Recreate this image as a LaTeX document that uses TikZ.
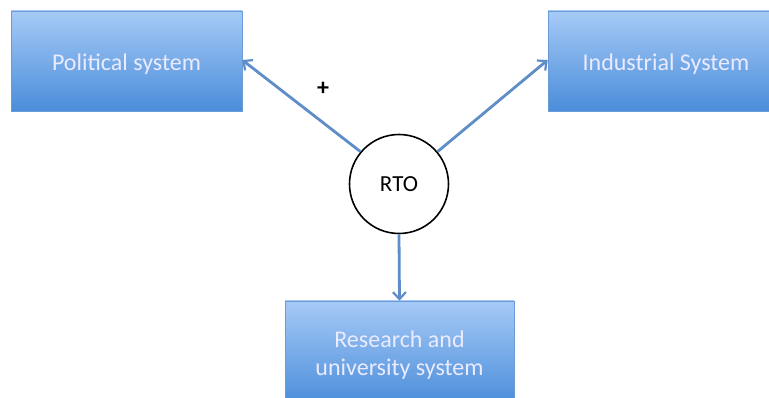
\documentclass[tikz,border=0pt]{standalone}
\usepackage{fontspec}
\setmainfont{Carlito}
\usetikzlibrary{arrows.meta,shadows}
\definecolor{boxtop}{HTML}{A6CAF6}
\definecolor{boxbot}{HTML}{4A8DDA}
\definecolor{boxline}{HTML}{6A9BD6}
\definecolor{linkcol}{HTML}{5E8DC8}
\begin{document}
\begin{tikzpicture}[x=1pt,y=-1pt,
  sysbox/.style={rectangle, draw=boxline, line width=0.6pt,
    top color=boxtop, bottom color=boxbot, inner sep=0pt,
    drop shadow={shadow xshift=1pt, shadow yshift=-1.5pt, opacity=0.25}},
  systext/.style={text=white!92!blue, font=\fontsize{24}{28}\selectfont,
    align=center, inner sep=0pt},
  hub/.style={circle, draw=black, line width=1.6pt, fill=white,
    minimum size=99pt, inner sep=0pt, font=\fontsize{23}{26}\selectfont},
  link/.style={draw=linkcol, line width=2.8pt,
    -{Straight Barb[length=7pt,width=13pt,line width=2.2pt]}}]
  \useasboundingbox (0,0) rectangle (769,398);
  \fill[white] (0,0) rectangle (769,398);

  % system boxes (the right and bottom ones run past the page edge)
  \node[sysbox, minimum width=231pt, minimum height=100pt] (pol) at (126.5,61) {};
  \node[sysbox, minimum width=236pt, minimum height=100pt] (ind) at (666,61) {};
  \node[sysbox, minimum width=229pt, minimum height=104pt] (res) at (399.5,353) {};
  \node[systext] (poltext) at (126.5,64) {Political system};
  \node[systext] (indtext) at (666,64) {Industrial System};
  \node[systext] (restext) at (399.5,355) {Research and\\university system};

  \node[hub] (rto) at (399,184) {RTO};

  \draw[link] (rto.140) -- (pol.east |- 0,60);
  \draw[link] (rto.40) -- (ind.west |- 0,60);
  \draw[link] (rto.south) -- (res.north);

  \node[font=\bfseries\fontsize{24}{26}\selectfont] (plus) at (323,89) {+};
\end{tikzpicture}
\end{document}
